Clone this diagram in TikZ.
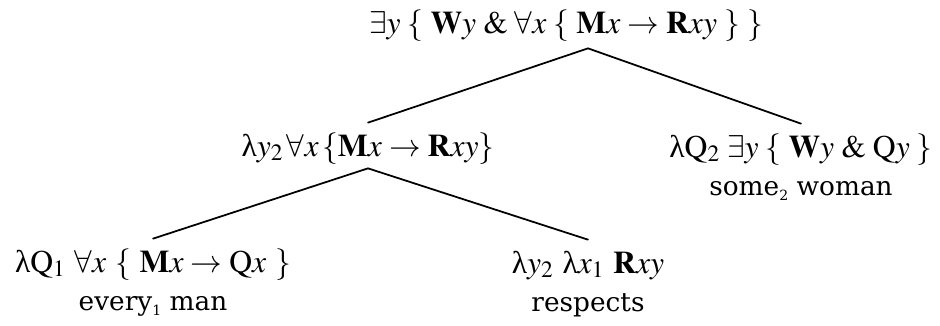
\documentclass[tikz,border=0pt]{standalone}
\usepackage{mathptmx}
\usepackage[no-math]{fontspec}
\newfontfamily\wordfont{DejaVu Serif}
\newfontfamily\greekfont{Liberation Serif}
\newcommand{\lam}{\mbox{\greekfont λ}}
\newcommand{\gap}[1][4]{\mskip#1mu}
\newcommand{\wsub}[1]{\raisebox{-0.35ex}{\fontsize{8}{8}\selectfont #1}}
\usepackage{tikz}
\usetikzlibrary{positioning}

\begin{document}
\begin{tikzpicture}[
        x=0.02cm, y=-0.02cm,
        % 
        formula/.style={
            inner sep=0pt,
            anchor=base,
            text height=0.66cm,
            text depth=0.24cm,
            font=\fontsize{18}{22}\selectfont,
        },
        % 
        word/.style={
            inner sep=0pt,
            text height=0.52cm,
            font=\wordfont\fontsize{15}{18}\selectfont,
        },
        tree edge/.style={line width=1pt, line cap=round}
        ]
        \useasboundingbox (0,0) rectangle (940,325);
        
        % Vertices
        
        \node[formula] (root) at (566,33) {$\exists y\gap\{\gap\mathbf{W}y\gap\&\gap\forall x\gap\{\gap\mathbf{M}x \rightarrow \mathbf{R}xy\gap\}\gap\}$};
        \node[formula] (lam-y2) at (368,156) {$\lam y_2\gap[2]\forall x\gap[2]\{\mathbf{M}x \rightarrow \mathbf{R}xy\}$};
        \node[formula] (some2) at (801,157) {$\lam\mathrm{Q}_2\gap\exists y\gap\{\gap\mathbf{W}y\gap\&\gap\mathrm{Q}y\gap\}$};
        \node[word, below=0pt of some2] (some2-w) {some\wsub{2} woman};
        \node[formula] (every1) at (153,272) {$\lam\mathrm{Q}_1\gap[5]\forall x\gap[5]\{\gap[5]\mathbf{M}x \rightarrow \mathrm{Q}x\gap[5]\}$};
        \node[word, below=0pt of every1] (every1-w) {every\wsub{1} man};
        \node[formula] (resp) at (588,273) {$\lam y_2\gap[5]\lam x_1\gap[5]\mathbf{R}xy$};
        \node[word, below=0pt of resp] (resp-w) {respects};
        
        % Edges
        
        \coordinate (root-foot) at ([xshift=0.44cm, yshift=-0.06cm]root.south);
        \draw[tree edge] (root-foot) to (lam-y2.north);
        \draw[tree edge] (root-foot) to (some2.north);
        %
        \draw[tree edge] (lam-y2.south) to (every1.north);
        \draw[tree edge] (lam-y2.south) to (resp.north);
        % 
    \end{tikzpicture}
\end{document}
